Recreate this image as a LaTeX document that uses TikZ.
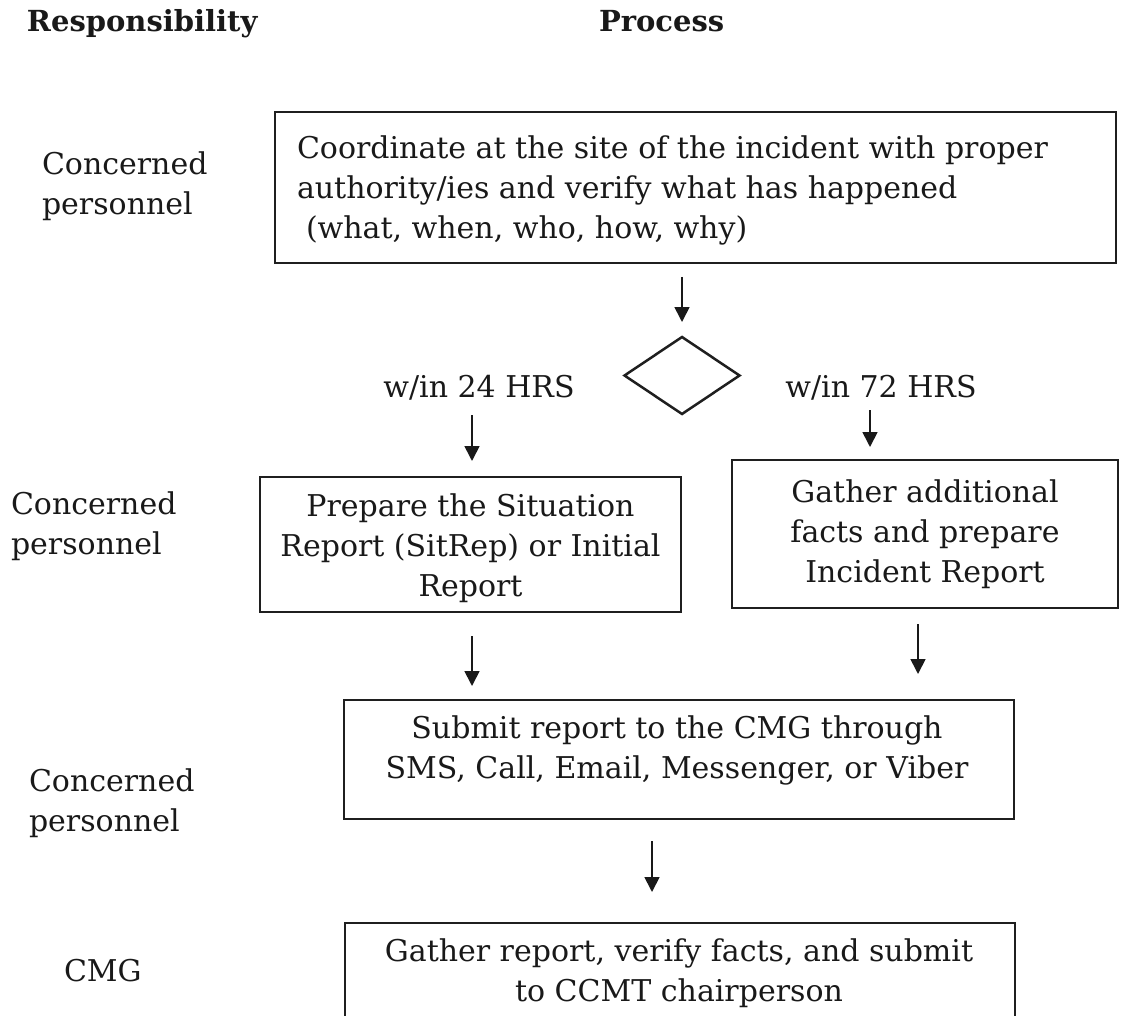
\documentclass[tikz,border=0pt]{standalone}
\usepackage{fontspec}
\setmainfont{DejaVu Serif}
\usetikzlibrary{arrows.meta,shapes.geometric}
\begin{document}
\begin{tikzpicture}[x=1pt,y=-1pt,
  every node/.style={inner sep=0pt, outer sep=0pt},
  box/.style={draw=black!88, line width=1.8pt, rectangle},
  body/.style={font=\fontsize{30}{40}\selectfont, text=black!90},
  head/.style={font=\fontsize{29}{36}\selectfont\bfseries, text=black!90},
  who/.style={body, align=left, anchor=north west},
  arr/.style={draw=black!90, line width=1.7pt, -{Triangle[length=15pt,width=15pt]}},
]
\useasboundingbox (0,0) rectangle (1124,1016);
\clip (0,0) rectangle (1124,1016);

% headers
\node[head, anchor=base west] (hresp) at (27,32) {Responsibility};
\node[head, anchor=base west] (hproc) at (599,32) {Process};

% responsibility labels
\node[who] (r1) at (42,152) {Concerned\\personnel};
\node[who] (r2) at (11,492) {Concerned\\personnel};
\node[who] (r3) at (29,769) {Concerned\\personnel};
\node[who] (r4) at (64,959) {CMG};

% top box
\node[box, minimum width=841pt, minimum height=151pt] (top) at (695.5,187.5) {};
\node[body, anchor=west, align=left] (toptxt) at (297,190)
  {Coordinate at the site of the incident with proper\\authority/ies and verify what has happened\\\hspace*{9pt}(what, when, who, how, why)};

% decision
\node[draw=black!88, line width=2.5pt, diamond, aspect=1.49, minimum width=115pt, minimum height=77pt] (dia) at (682,375.5) {};
\node[body] (l24) at (479,388) {w/in 24 HRS};
\node[body] (l72) at (881,388) {w/in 72 HRS};

% second row boxes
\node[box, minimum width=421pt, minimum height=135pt] (lbox) at (470.5,544.5) {};
\node[body, align=center] (ltxt) at (470.5,548)
  {Prepare the Situation\\Report (SitRep) or Initial\\Report};
\node[box, body, align=center, minimum width=386pt, minimum height=148pt] (rbox) at (925,534)
  {Gather additional\\facts and prepare\\Incident Report};

% middle box
\node[box, minimum width=670pt, minimum height=119pt] (mbox) at (679,759.5) {};
\node[body, align=center] (mtxt) at (677,750)
  {Submit report to the CMG through\\SMS, Call, Email, Messenger, or Viber};

% bottom box
\node[box, minimum width=670pt, minimum height=117pt] (bbox) at (680,981.5) {};
\node[body, align=center] (btxt) at (679,973)
  {Gather report, verify facts, and submit\\to CCMT chairperson};

% connectors
\draw[arr, shorten <=14pt, shorten >=15pt] (top.south -| dia.north) -- (dia.north);
\coordinate (c24) at (472,415);
\draw[arr, shorten >=16pt] (c24) -- (c24 |- lbox.north);
\coordinate (c72) at (870,410);
\draw[arr, shorten >=13pt] (c72) -- (c72 |- rbox.north);
\coordinate (c4) at (472,636);
\draw[arr, shorten >=14pt] (c4) -- (c4 |- mbox.north);
\coordinate (c5) at (918,624);
\draw[arr, shorten >=26pt] (c5) -- (c5 |- mbox.north);
\coordinate (c6) at (652,841);
\draw[arr, shorten >=31pt] (c6) -- (c6 |- bbox.north);
\end{tikzpicture}
\end{document}
